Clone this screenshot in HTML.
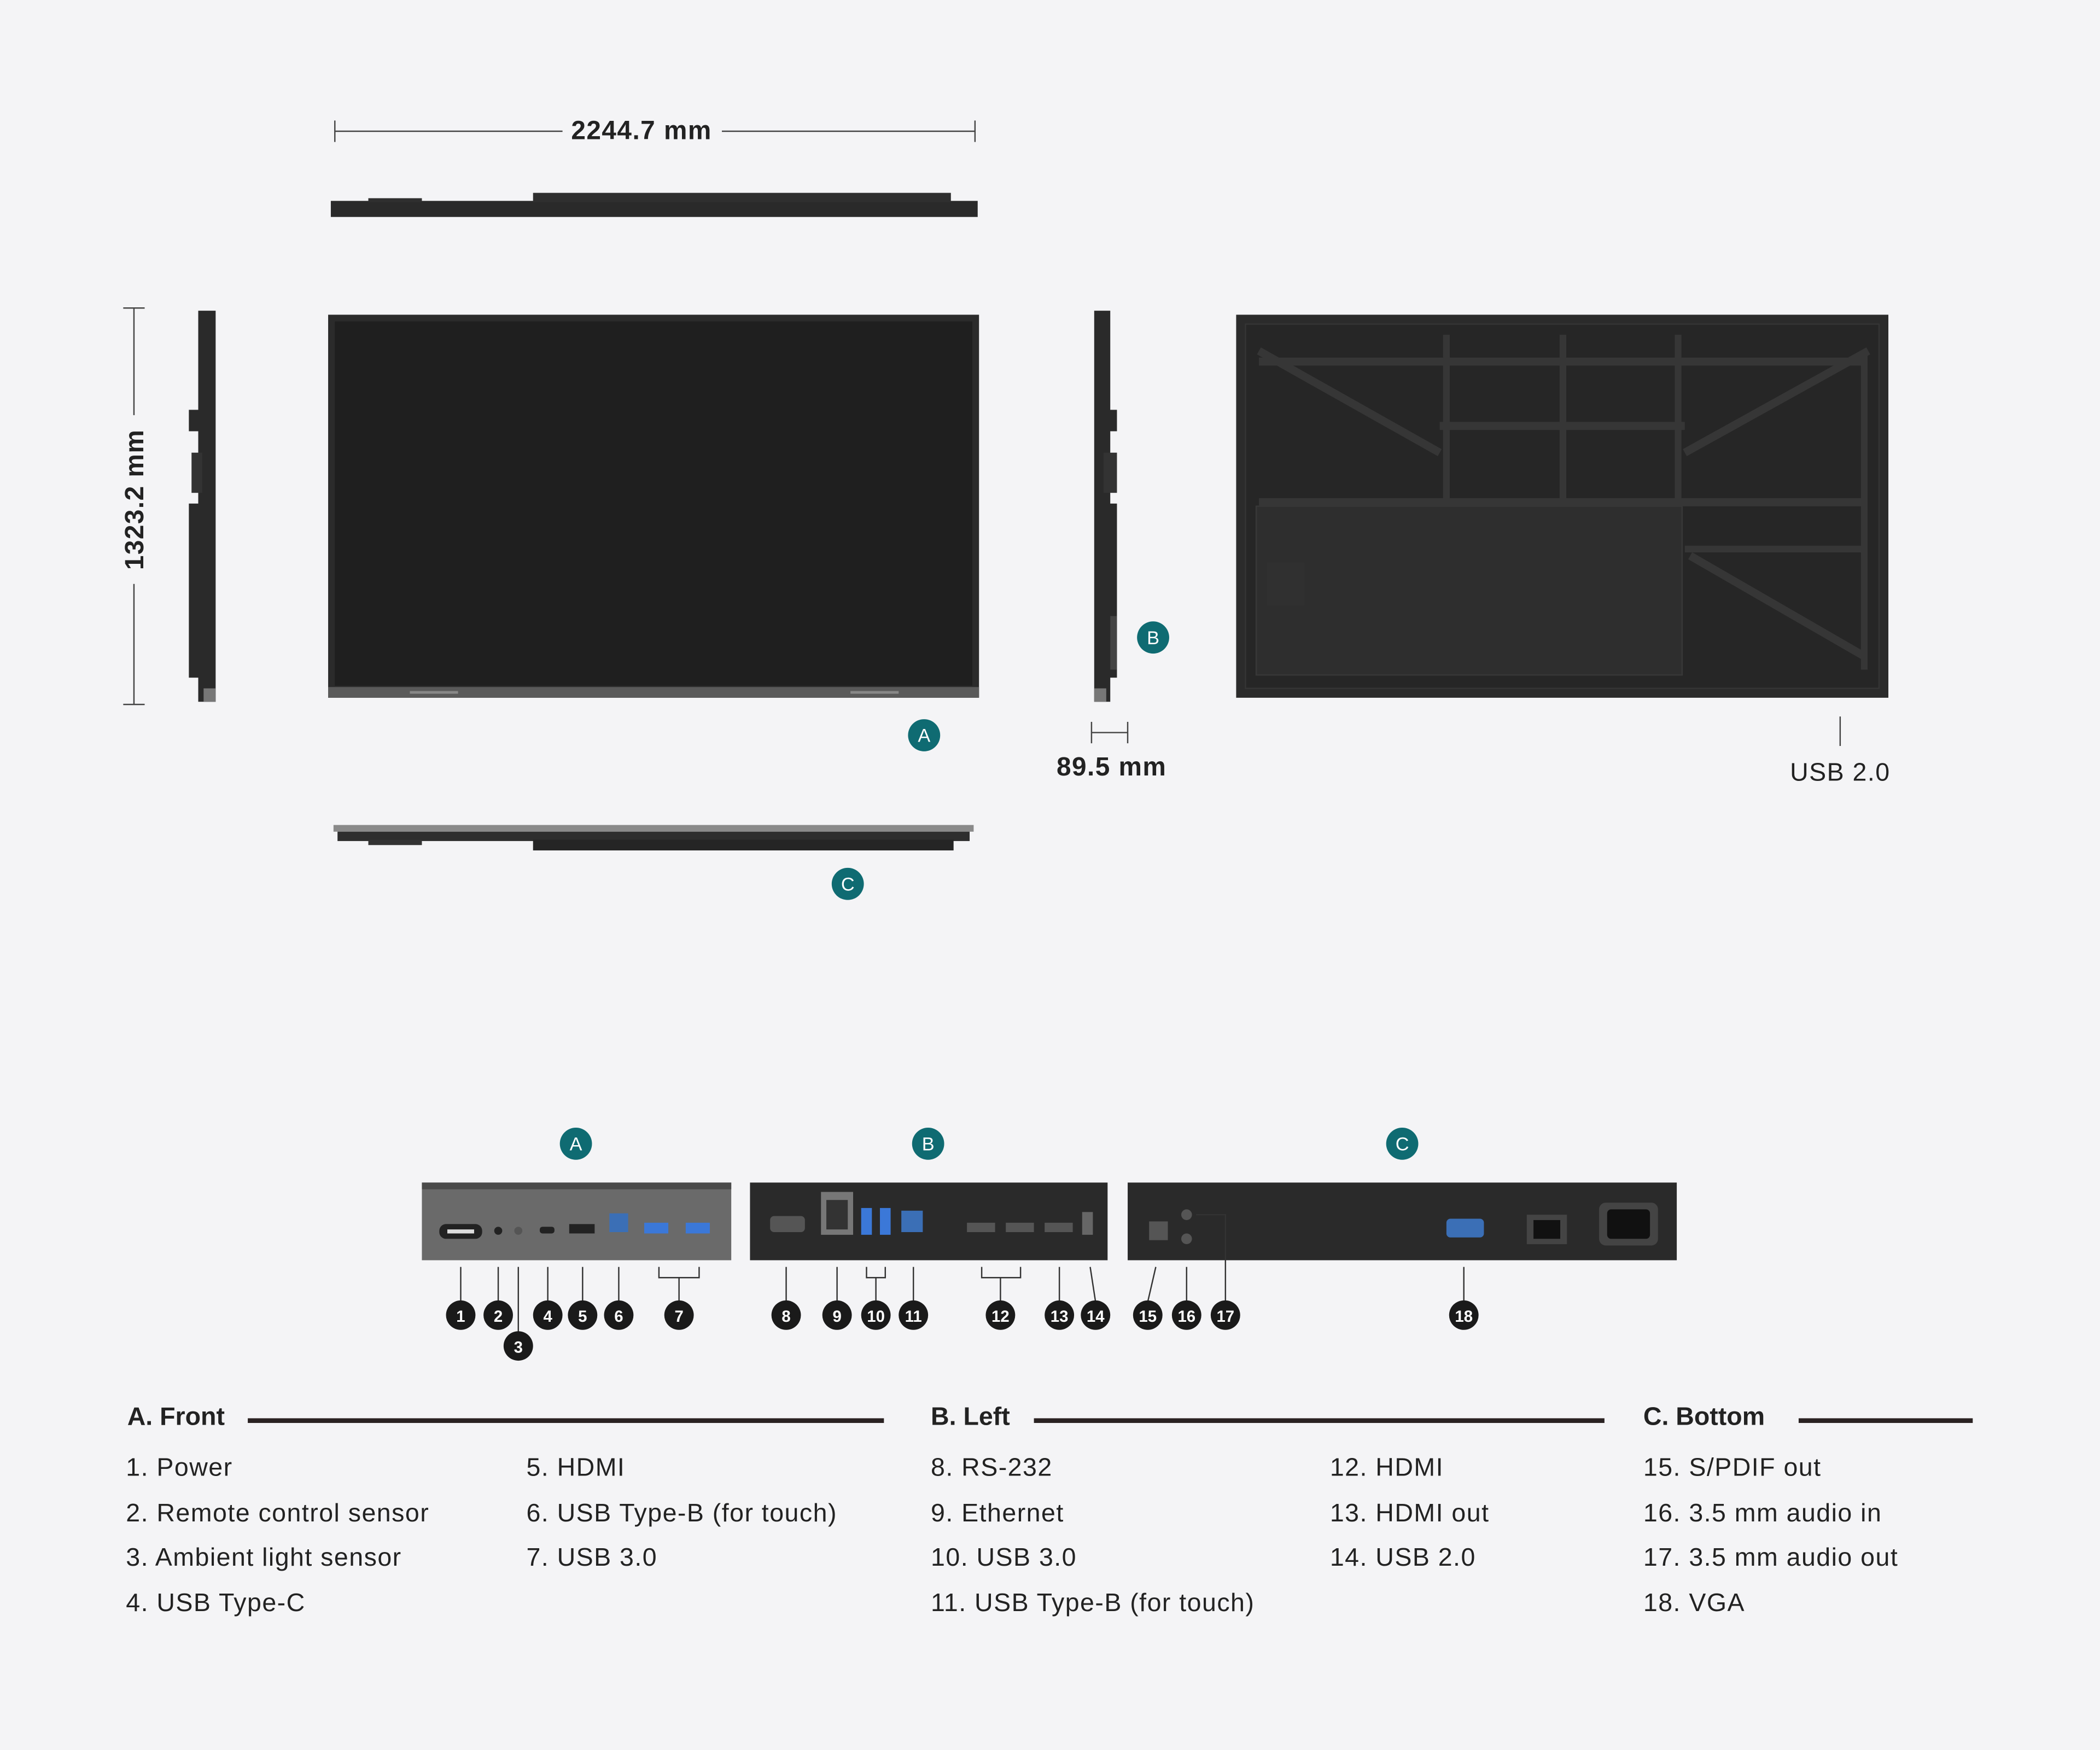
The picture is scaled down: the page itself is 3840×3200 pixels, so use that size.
<!DOCTYPE html>
<html><head><meta charset="utf-8"><style>
html,body{margin:0;padding:0;background:#f4f4f6;}
svg{display:block;}
text{font-family:"Liberation Sans",sans-serif;fill:#222;}
.it{letter-spacing:0.6px;}
</style></head><body>
<svg width="3840" height="3200" viewBox="0 0 1568 1306.7" xmlns="http://www.w3.org/2000/svg">
<rect width="1568" height="1307" fill="#f4f4f6"/>
<g stroke="#444" stroke-width="1">
<line x1="250" y1="98" x2="420" y2="98"/><line x1="539" y1="98" x2="728" y2="98"/>
<line x1="250" y1="90" x2="250" y2="106"/><line x1="728" y1="90" x2="728" y2="106"/>
<line x1="100" y1="230" x2="100" y2="310"/><line x1="100" y1="436" x2="100" y2="526"/>
<line x1="92" y1="230" x2="108" y2="230"/><line x1="92" y1="526" x2="108" y2="526"/>
<line x1="815" y1="547" x2="842" y2="547"/><line x1="815" y1="539" x2="815" y2="555"/><line x1="842" y1="539" x2="842" y2="555"/>
<line x1="1374" y1="535" x2="1374" y2="557"/>
</g>
<text x="479" y="104" font-size="19.5" text-anchor="middle" font-weight="600" class="it">2244.7 mm</text>
<text transform="translate(107,373) rotate(-90)" font-size="19.5" text-anchor="middle" font-weight="600" class="it">1323.2 mm</text>
<text x="830" y="579" font-size="19.5" text-anchor="middle" font-weight="600" class="it">89.5 mm</text>
<text x="1374" y="583" font-size="19" text-anchor="middle" class="it">USB 2.0</text>
<rect x="247" y="150" width="483" height="12" fill="#2a2a2a"/>
<rect x="398" y="144" width="312" height="7" fill="#2f2f2f"/>
<rect x="275" y="148" width="40" height="3" fill="#2f2f2f"/>
<rect x="148" y="232" width="13" height="292" fill="#2a2a2a"/>
<rect x="141" y="306" width="8" height="16" fill="#2a2a2a"/>
<rect x="143" y="338" width="8" height="30" fill="#333"/>
<rect x="141" y="376" width="8" height="130" fill="#2a2a2a"/>
<rect x="152" y="514" width="9" height="10" fill="#777"/>
<rect x="245" y="235" width="486" height="286" fill="#2b2b2b"/>
<rect x="250" y="240" width="476" height="272" fill="#1f1f1f"/>
<rect x="245" y="513" width="486" height="8" fill="#5a5a5a"/>
<rect x="306" y="516" width="36" height="2" fill="#888"/><rect x="635" y="516" width="36" height="2" fill="#888"/>
<rect x="817" y="232" width="12" height="292" fill="#2a2a2a"/>
<rect x="826" y="306" width="8" height="16" fill="#2a2a2a"/>
<rect x="824" y="338" width="10" height="30" fill="#333"/>
<rect x="826" y="376" width="8" height="130" fill="#2a2a2a"/>
<rect x="829" y="460" width="5" height="40" fill="#444"/>
<rect x="817" y="514" width="9" height="10" fill="#777"/>
<rect x="923" y="235" width="487" height="286" fill="#2b2b2b"/>
<rect x="930" y="242" width="473" height="272" fill="#262626" stroke="#353535"/>
<rect x="938" y="378" width="318" height="126" fill="#2e2e2e" stroke="#383838"/>
<g stroke="#363636" stroke-width="6" fill="none">
<line x1="940" y1="262" x2="1075" y2="338"/><line x1="1395" y1="262" x2="1258" y2="338"/>
<line x1="1075" y1="318" x2="1258" y2="318"/>
<line x1="1262" y1="415" x2="1392" y2="490"/>
<line x1="940" y1="375" x2="1392" y2="375"/><line x1="940" y1="270" x2="1392" y2="270"/>
</g>
<g stroke="#363636" stroke-width="5">
<line x1="1080" y1="250" x2="1080" y2="372"/><line x1="1167" y1="250" x2="1167" y2="372"/><line x1="1253" y1="250" x2="1253" y2="372"/>
<line x1="1392" y1="262" x2="1392" y2="500"/><line x1="1258" y1="410" x2="1392" y2="410"/>
</g>
<rect x="946" y="420" width="28" height="32" fill="#303030"/>
<rect x="249" y="616" width="478" height="5" fill="#8a8a8a"/>
<rect x="252" y="621" width="472" height="7" fill="#2e2e2e"/>
<rect x="398" y="627" width="314" height="8" fill="#252525"/>
<rect x="275" y="627" width="40" height="4" fill="#333"/>
<g fill="#0f6b72">
<circle cx="861" cy="476" r="12"/><circle cx="690" cy="549" r="12"/><circle cx="633" cy="660" r="12"/>
<circle cx="430" cy="854" r="12"/><circle cx="693" cy="854" r="12"/><circle cx="1047" cy="854" r="12"/>
</g>
<g font-size="14" text-anchor="middle">
<text x="861" y="481" style="fill:#fff">B</text><text x="690" y="554" style="fill:#fff">A</text><text x="633" y="665" style="fill:#fff">C</text>
<text x="430" y="859" style="fill:#fff">A</text><text x="693" y="859" style="fill:#fff">B</text><text x="1047" y="859" style="fill:#fff">C</text>
</g>
<rect x="315" y="883" width="231" height="58" fill="#6a6a6a"/>
<rect x="315" y="883" width="231" height="5" fill="#4a4a4a"/>
<rect x="328" y="914" width="32" height="11" rx="5" fill="#222"/><rect x="334" y="918" width="20" height="3" fill="#ddd"/>
<circle cx="372" cy="919" r="3" fill="#222"/><circle cx="387" cy="919" r="3" fill="#555"/>
<rect x="403" y="916" width="11" height="5" rx="2" fill="#222"/>
<rect x="425" y="914" width="19" height="7" fill="#222"/>
<rect x="455" y="906" width="14" height="14" fill="#3b6fb6"/>
<rect x="481" y="913" width="18" height="8" fill="#3b78d8"/><rect x="512" y="913" width="18" height="8" fill="#3b78d8"/>
<rect x="560" y="883" width="267" height="58" fill="#2a2a2a"/>
<rect x="575" y="908" width="26" height="12" rx="3" fill="#555"/>
<rect x="613" y="890" width="24" height="32" fill="#777"/><rect x="617" y="896" width="16" height="22" fill="#333"/>
<rect x="643" y="902" width="8" height="20" fill="#3b78d8"/><rect x="657" y="902" width="8" height="20" fill="#3b78d8"/>
<rect x="673" y="904" width="16" height="16" fill="#3b6fb6"/>
<rect x="722" y="913" width="21" height="7" fill="#555"/><rect x="751" y="913" width="21" height="7" fill="#555"/><rect x="780" y="913" width="21" height="7" fill="#555"/>
<rect x="808" y="905" width="8" height="17" fill="#666"/>
<rect x="842" y="883" width="410" height="58" fill="#2a2a2a"/>
<rect x="858" y="912" width="14" height="14" fill="#555"/>
<circle cx="886" cy="907" r="4" fill="#555"/><circle cx="886" cy="925" r="4" fill="#555"/>
<rect x="1080" y="910" width="28" height="14" rx="3" fill="#3b6fb6"/>
<rect x="1140" y="907" width="30" height="22" fill="#444"/><rect x="1145" y="911" width="20" height="14" fill="#111"/>
<rect x="1194" y="898" width="44" height="32" rx="5" fill="#444"/><rect x="1200" y="903" width="32" height="22" rx="3" fill="#111"/>
<g stroke="#333" stroke-width="1" fill="none">
<line x1="344" y1="946" x2="344" y2="972"/><line x1="372" y1="946" x2="372" y2="972"/><line x1="387" y1="946" x2="387" y2="995"/>
<line x1="409" y1="946" x2="409" y2="972"/><line x1="435" y1="946" x2="435" y2="972"/><line x1="462" y1="946" x2="462" y2="972"/>
<polyline points="492,946 492,954 522,954 522,946"/><line x1="507" y1="954" x2="507" y2="972"/>
<line x1="587" y1="946" x2="587" y2="972"/><line x1="625" y1="946" x2="625" y2="972"/>
<polyline points="647,946 647,954 661,954 661,946"/><line x1="654" y1="954" x2="654" y2="972"/>
<line x1="682" y1="946" x2="682" y2="972"/>
<polyline points="733,946 733,954 762,954 762,946"/><line x1="747" y1="954" x2="747" y2="972"/>
<line x1="791" y1="946" x2="791" y2="972"/><line x1="814" y1="946" x2="818" y2="972"/>
<line x1="863" y1="946" x2="857" y2="972"/><line x1="886" y1="946" x2="886" y2="972"/>
<polyline points="893,907 915,907 915,972"/><line x1="1093" y1="946" x2="1093" y2="972"/>
</g>
<g fill="#1a1a1a">
<circle cx="344" cy="982" r="11"/><circle cx="372" cy="982" r="11"/><circle cx="387" cy="1005" r="11"/><circle cx="409" cy="982" r="11"/>
<circle cx="435" cy="982" r="11"/><circle cx="462" cy="982" r="11"/><circle cx="507" cy="982" r="11"/><circle cx="587" cy="982" r="11"/>
<circle cx="625" cy="982" r="11"/><circle cx="654" cy="982" r="11"/><circle cx="682" cy="982" r="11"/><circle cx="747" cy="982" r="11"/>
<circle cx="791" cy="982" r="11"/><circle cx="818" cy="982" r="11"/><circle cx="857" cy="982" r="11"/><circle cx="886" cy="982" r="11"/>
<circle cx="915" cy="982" r="11"/><circle cx="1093" cy="982" r="11"/>
</g>
<g font-size="12" font-weight="bold" text-anchor="middle">
<text x="344" y="987" style="fill:#fff">1</text><text x="372" y="987" style="fill:#fff">2</text><text x="387" y="1010" style="fill:#fff">3</text>
<text x="409" y="987" style="fill:#fff">4</text><text x="435" y="987" style="fill:#fff">5</text><text x="462" y="987" style="fill:#fff">6</text>
<text x="507" y="987" style="fill:#fff">7</text><text x="587" y="987" style="fill:#fff">8</text><text x="625" y="987" style="fill:#fff">9</text>
<text x="654" y="987" style="fill:#fff">10</text><text x="682" y="987" style="fill:#fff">11</text><text x="747" y="987" style="fill:#fff">12</text>
<text x="791" y="987" style="fill:#fff">13</text><text x="818" y="987" style="fill:#fff">14</text><text x="857" y="987" style="fill:#fff">15</text>
<text x="886" y="987" style="fill:#fff">16</text><text x="915" y="987" style="fill:#fff">17</text><text x="1093" y="987" style="fill:#fff">18</text>
</g>
<g font-size="19">
<text x="95" y="1064" font-weight="bold">A. Front</text>
<text x="695" y="1064" font-weight="bold">B. Left</text>
<text x="1227" y="1064" font-weight="bold">C. Bottom</text>
<g class="it">
<text x="94" y="1102">1. Power</text><text x="94" y="1136">2. Remote control sensor</text><text x="94" y="1169">3. Ambient light sensor</text><text x="94" y="1203">4. USB Type-C</text>
<text x="393" y="1102">5. HDMI</text><text x="393" y="1136">6. USB Type-B (for touch)</text><text x="393" y="1169">7. USB 3.0</text>
<text x="695" y="1102">8. RS-232</text><text x="695" y="1136">9. Ethernet</text><text x="695" y="1169">10. USB 3.0</text><text x="695" y="1203">11. USB Type-B (for touch)</text>
<text x="993" y="1102">12. HDMI</text><text x="993" y="1136">13. HDMI out</text><text x="993" y="1169">14. USB 2.0</text>
<text x="1227" y="1102">15. S/PDIF out</text><text x="1227" y="1136">16. 3.5 mm audio in</text><text x="1227" y="1169">17. 3.5 mm audio out</text><text x="1227" y="1203">18. VGA</text>
</g>
</g>
<g fill="#2a2222">
<rect x="185" y="1059" width="475" height="3.5"/><rect x="772" y="1059" width="426" height="3.5"/><rect x="1343" y="1059" width="130" height="3.5"/>
</g>
</svg>
</body></html>
